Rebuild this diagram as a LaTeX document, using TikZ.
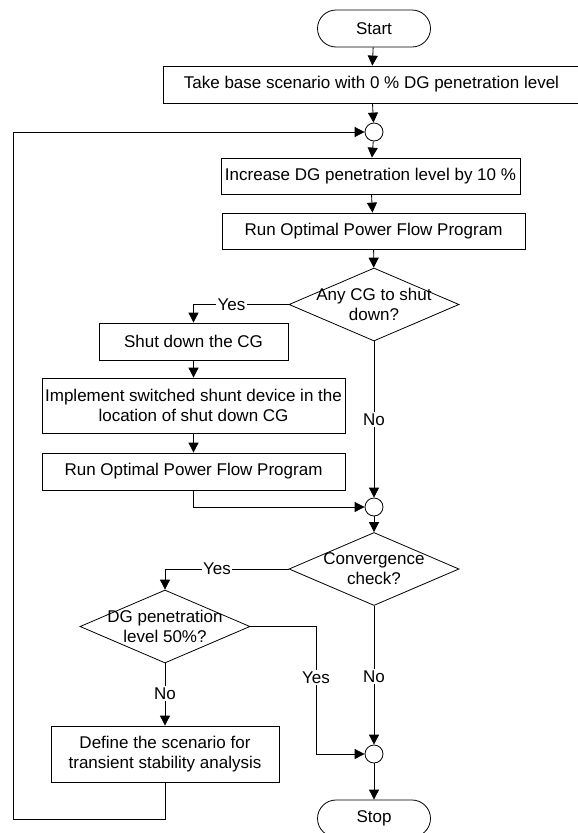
\documentclass[tikz,border=0pt]{standalone}
\usepackage{fontspec}
\setmainfont{Liberation Sans}
\usetikzlibrary{shapes.geometric,arrows.meta}
\begin{document}
\begin{tikzpicture}[x=1pt,y=-1pt,
  font=\fontsize{17}{19.8}\selectfont,
  box/.style={draw, line width=0.8pt, inner sep=0pt, align=center},
  term/.style={draw, line width=0.8pt, rounded corners=18.5pt, minimum width=113pt, minimum height=37pt, inner sep=0pt},
  dia/.style={draw, diamond, line width=0.8pt, minimum width=170pt, minimum height=73pt, inner sep=0pt},
  junc/.style={draw, circle, line width=0.8pt, minimum size=18pt, inner sep=0pt},
  arr/.style={line width=0.8pt, -{Triangle[length=10pt,width=10pt]}},
  lbl/.style={fill=white, inner sep=1.5pt}
]
\clip (0,0) rectangle (578,833);
\fill[white] (0,0) rectangle (578,833);

\node[term] (start) at (374,28.5) {Start};
\node[box, minimum width=417pt, minimum height=37pt] (base) at (371.5,84.5) {Take base scenario with 0 \% DG penetration level};
\node[junc] (c1) at (374,132) {};
\node[box, minimum width=299pt, minimum height=36pt] (inc) at (370.5,176) {Increase DG penetration level by 10 \%};
\node[box, minimum width=303pt, minimum height=36pt] (run1) at (373.5,231) {Run Optimal Power Flow Program};
\node[dia, label={[align=center]center:Any CG to shut\\down?}] (d1) at (374,304.5) {};
\node[box, minimum width=189pt, minimum height=37pt] (shut) at (193.5,341.5) {Shut down the CG};
\node[box, minimum width=303pt, minimum height=55pt] (impl) at (193.5,405.5) {Implement switched shunt device in the\\location of shut down CG};
\node[box, minimum width=303pt, minimum height=37pt] (run2) at (193.5,471.5) {Run Optimal Power Flow Program};
\node[junc] (c2) at (374,507) {};
\node[dia, label={[align=center]center:Convergence\\check?}] (d2) at (374,569) {};
\node[dia, label={[align=center]center:DG penetration\\level 50\%?}] (d3) at (165,626.5) {};
\node[box, minimum width=228pt, minimum height=56pt] (def) at (165,754) {Define the scenario for\\transient stability analysis};
\node[junc] (c3) at (374,754) {};
\node[term] (stop) at (374,818.5) {Stop};

\coordinate (lp) at (13,819);
\coordinate (yb) at (316,626.5);

\draw[arr] (start) -- (base);
\draw[arr] (base) -- (c1);
\draw[arr] (c1) -- (inc);
\draw[arr] (inc) -- (run1);
\draw[arr] (run1) -- (d1);
\draw[arr] (d1.west) -| node[lbl,pos=0.3]{Yes} (shut.north);
\draw[arr] (shut) -- (impl);
\draw[arr] (impl) -- (run2);
\draw[arr] (run2.south) |- (c2.west);
\draw[arr] (d1.south) -- node[lbl,pos=0.5]{No} (c2.north);
\draw[arr] (c2) -- (d2);
\draw[arr] (d2.west) -| node[lbl,pos=0.29]{Yes} (d3.north);
\draw[arr] (d2.south) -- node[lbl,pos=0.51]{No} (c3.north);
\draw[arr] (d3.south) -- node[lbl,pos=0.48]{No} (def.north);
\draw[arr] (d3.east) -- (yb) |- node[lbl,pos=0.2]{Yes} (c3.west);
\draw[arr] (c3) -- (stop);
\draw[arr] (def.south) |- (lp) |- (c1.west);
\end{tikzpicture}
\end{document}
